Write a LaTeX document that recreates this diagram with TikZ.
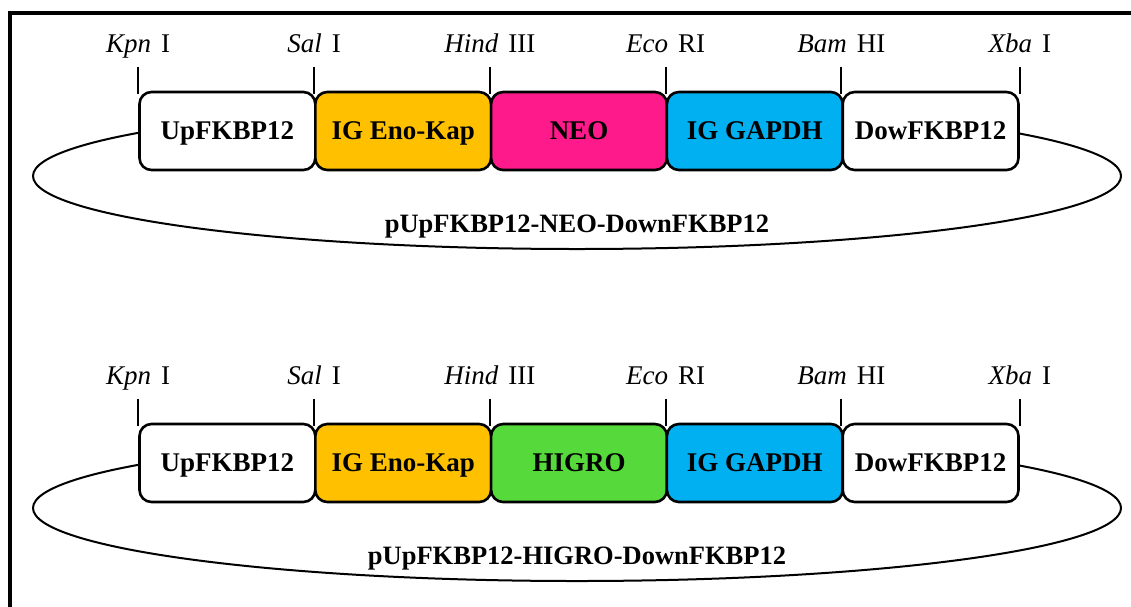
\documentclass[tikz,border=0pt]{standalone}
\usepackage{fontspec}
\setmainfont{Liberation Serif}
\definecolor{enoorange}{HTML}{FFC000}
\definecolor{neopink}{HTML}{FF1A8C}
\definecolor{gapdhblue}{HTML}{00B0F0}
\definecolor{higrogreen}{HTML}{56D93A}
\newcommand{\sitelabel}[2]{\textit{#1}\hspace{10pt}#2}
\begin{document}
\begin{tikzpicture}[x=1pt,y=-1pt,
  seg/.style={draw, line width=2.6pt, rounded corners=12pt,
    minimum width=175.8pt, minimum height=78pt, inner sep=0pt,
    text height=17.5pt, text depth=0pt,
    font=\fontsize{27}{31}\selectfont\bfseries},
  site/.style={anchor=base, inner sep=0pt, font=\fontsize{27}{31}\selectfont},
  sitetick/.style={line width=2pt},
  ring/.style={line width=2pt},
  plasmid/.style={anchor=base, inner sep=0pt, font=\fontsize{26.5}{30}\selectfont\bfseries}]
\useasboundingbox (0,0) rectangle (1131,606);
\fill[white] (0,0) rectangle (1131,606);
% outer frame (top and left edges)
\draw[line width=4pt] (9.5,610) -- (9.5,12.5) -- (1135,12.5);

\foreach \r/\dy/\gene/\genecol in {1/0/NEO/neopink, 2/332/HIGRO/higrogreen} {
  \begin{scope}[yshift=-\dy pt]
    % plasmid backbone
    \draw[ring] (577,176) ellipse [x radius=544, y radius=73];
    % cassette segments
    \node[seg, fill=white]     (up\r)  at (227.4,131) {UpFKBP12};
    \node[seg, fill=enoorange] (eno\r) at (403.2,131) {IG Eno-Kap};
    \node[seg, fill=\genecol]  (mk\r)  at (579.0,131) {\gene};
    \node[seg, fill=gapdhblue] (gap\r) at (754.8,131) {IG GAPDH};
    \node[seg, fill=white]     (dow\r) at (930.6,131) {DowFKBP12};
    % restriction sites
    \foreach \s/\anc/\lab in {up\r/north west/{\sitelabel{Kpn}{I}},
                              eno\r/north west/{\sitelabel{Sal}{I}},
                              mk\r/north west/{\sitelabel{Hind}{III}},
                              gap\r/north west/{\sitelabel{Eco}{RI}},
                              dow\r/north west/{\sitelabel{Bam}{HI}},
                              dow\r/north east/{\sitelabel{Xba}{I}}} {
      \path (\s.\anc) ++(0,-24) coordinate (t-\s-\anc);
      \draw[sitetick] (t-\s-\anc) -- ([yshift=-3pt]\s.\anc);
      \node[site] (l-\s-\anc) at ([yshift=14pt]t-\s-\anc) {\lab};
    }
    \node[plasmid] (name\r) at (577,232) {pUpFKBP12-\gene-DownFKBP12};
  \end{scope}
}
\end{tikzpicture}
\end{document}
